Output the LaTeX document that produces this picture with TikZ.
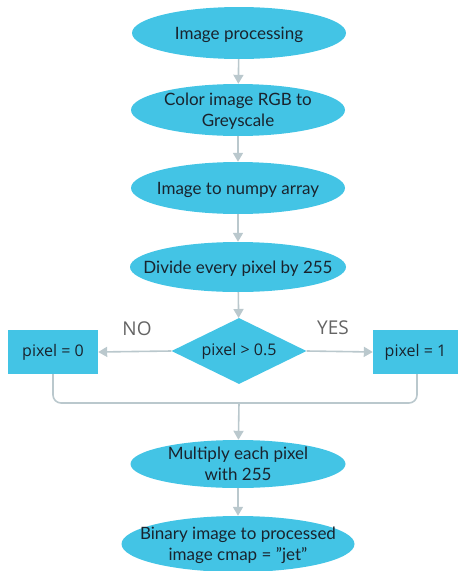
\documentclass[tikz,border=0pt]{standalone}
\usepackage{fontspec}
\setmainfont{Lato}
\newfontfamily\boxfont{Open Sans}
\usetikzlibrary{shapes.geometric,arrows.meta}
\definecolor{fillc}{RGB}{67,196,229}
\definecolor{linec}{RGB}{186,200,205}
\definecolor{labelc}{RGB}{100,100,100}
\definecolor{txtc}{RGB}{25,35,45}
\tikzset{
  ell/.style={ellipse,fill=fillc,inner xsep=-60pt,inner ysep=-20pt,minimum width=214pt,minimum height=52pt,align=center,text depth=0pt,font=\fontsize{17}{21}\selectfont,text=txtc},
  sq/.style={rectangle,fill=fillc,inner sep=0pt,align=center,font=\boxfont\fontsize{16}{19}\selectfont,text=txtc},
  dia/.style={diamond,fill=fillc,inner sep=0pt,minimum width=135pt,minimum height=66pt,aspect=2,font=\boxfont\fontsize{16}{19}\selectfont,text=txtc},
  conn/.style={draw=linec,line width=1.6pt,-{Triangle[length=9pt,width=10pt]}},
  plain/.style={draw=linec,line width=1.6pt,rounded corners=8pt},
  lab/.style={font=\boxfont\fontsize{19}{22}\selectfont,text=labelc}
}
\begin{document}
\begin{tikzpicture}[x=1pt,y=-1pt]
\useasboundingbox (0,0) rectangle (458,571);
\node[ell] (e1) at (239,33) {Image processing};
\node[ell] (e2) at (238,110) {Color image RGB to\\Greyscale};
\node[ell] (e3) at (238,188) {Image to numpy array};
\node[ell,minimum width=216pt,minimum height=50pt] (e4) at (238,267) {Divide every pixel by 255};
\node[dia] (d) at (239,351) {pixel > 0.5};
\node[sq,minimum width=90pt,minimum height=44pt] (l) at (53,352) {pixel = 0};
\node[sq,minimum width=85pt,minimum height=44pt] (r) at (415.5,352) {pixel = 1};
\node[ell,minimum width=215pt,minimum height=48pt] (e5) at (238,464) {Multiply each pixel\\with 255};
\node[ell,minimum width=233pt,minimum height=56pt] (e6) at (238,544) {Binary image to processed\\image cmap = \char"22 jet\char"22};
\node[lab] (no) at (137,329) {NO};
\node[lab] (yes) at (333,328) {YES};
\coordinate (m) at (239,403);
\draw[conn] (e1) -- (e2);
\draw[conn] (e2) -- (e3);
\draw[conn] (e3) -- (e4);
\draw[conn] (e4) -- (d);
\draw[conn] (d.west) -- (l.east);
\draw[conn] (d.east) -- (r.east -| r.west);
\draw[plain] (l.south) |- (m) -| ([xshift=1.5pt]r.south);
\draw[conn] (m) -- (e5);
\draw[conn] (e5) -- (e6);
\end{tikzpicture}
\end{document}
